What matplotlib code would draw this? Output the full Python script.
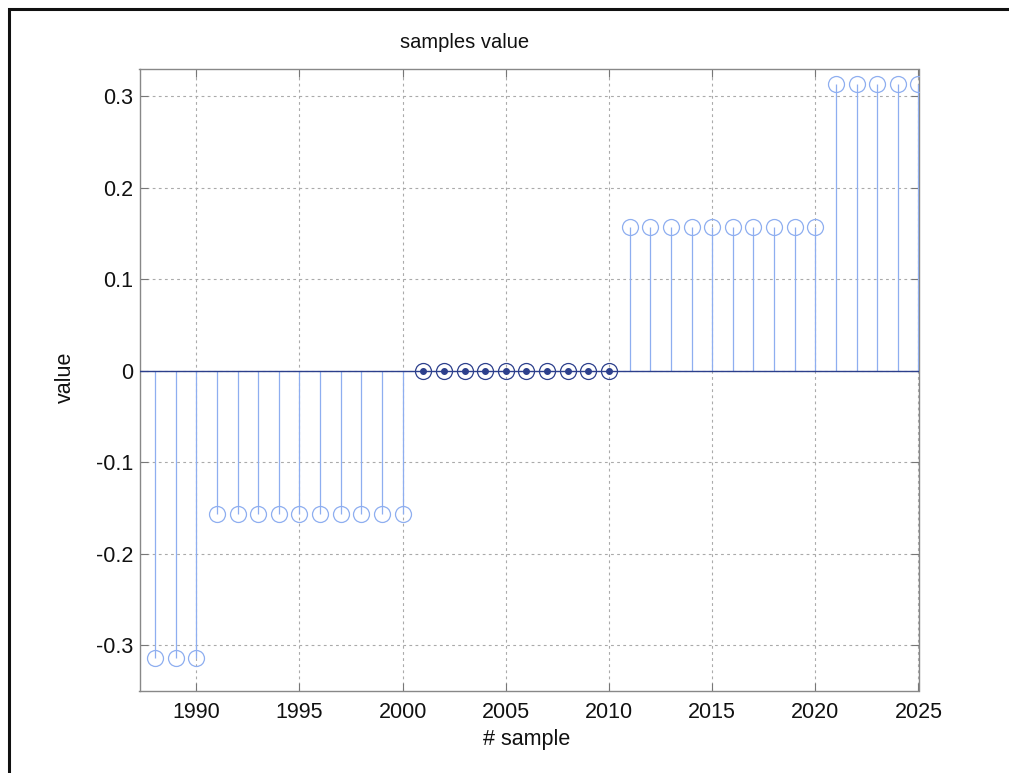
import matplotlib
matplotlib.use("Agg")
import matplotlib.pyplot as plt
from matplotlib.patches import Rectangle
from matplotlib.ticker import FixedLocator, FuncFormatter

samples = [1988, 1989, 1990, 1991, 1992, 1993, 1994, 1995, 1996, 1997,
           1998, 1999, 2000, 2001, 2002, 2003, 2004, 2005, 2006, 2007,
           2008, 2009, 2010, 2011, 2012, 2013, 2014, 2015, 2016, 2017,
           2018, 2019, 2020, 2021, 2022, 2023, 2024, 2025]
values = [-0.314, -0.314, -0.314,
          -0.157, -0.157, -0.157, -0.157, -0.157, -0.157, -0.157, -0.157, -0.157, -0.157,
          0.0, 0.0, 0.0, 0.0, 0.0, 0.0, 0.0, 0.0, 0.0, 0.0,
          0.157, 0.157, 0.157, 0.157, 0.157, 0.157, 0.157, 0.157, 0.157, 0.157,
          0.314, 0.314, 0.314, 0.314, 0.314]
x_ticks = [1990, 1995, 2000, 2005, 2010, 2015, 2020, 2025]
y_ticks = [-0.3, -0.2, -0.1, 0.0, 0.1, 0.2, 0.3]

plt.rcParams['font.family'] = ['Liberation Sans', 'DejaVu Sans']

W, H = 1009, 773
fig = plt.figure(figsize=(W / 100, H / 100), dpi=100)
fig.patch.set_facecolor('white')

# outer frame
fig.patches.append(Rectangle((9 / W, -0.05), 1.1, 1 - 9 / H + 0.05,
                             transform=fig.transFigure, fill=False,
                             edgecolor='#111111', linewidth=2.2, zorder=0))

ax = fig.add_axes([139.5 / W, 1 - 690.7 / H, (918.5 - 139.5) / W, (690.7 - 69) / H])
ax.set_xlim(1987.25, 2025)
ax.set_ylim(-0.35, 0.33)

stem_col = '#8eaef0'
zero_col = '#2c3f8c'

nz_x = [s for s, v in zip(samples, values) if v != 0]
nz_y = [v for v in values if v != 0]
z_x = [s for s, v in zip(samples, values) if v == 0]
z_y = [v for v in values if v == 0]

ax.vlines(nz_x, 0, nz_y, colors=stem_col, linewidth=0.9, zorder=3)
ax.plot(nz_x, nz_y, linestyle='none', marker='o', markersize=11.5,
        markerfacecolor='none', markeredgecolor=stem_col, markeredgewidth=0.9, zorder=4)
ax.axhline(0, color=zero_col, linewidth=1.0, zorder=3)
ax.plot(z_x, z_y, linestyle='none', marker='o', markersize=11.5,
        markerfacecolor='none', markeredgecolor=zero_col, markeredgewidth=0.9, zorder=5)
ax.plot(z_x, z_y, linestyle='none', marker='o', markersize=4,
        markerfacecolor=zero_col, markeredgecolor=zero_col, zorder=6)

ax.xaxis.set_major_locator(FixedLocator(x_ticks))
ax.yaxis.set_major_locator(FixedLocator(y_ticks))
ax.yaxis.set_major_formatter(FuncFormatter(lambda v, p: '0' if abs(v) < 1e-9 else f'{v:.1f}'))
ax.grid(True, color='#aaaaaa', linestyle=(0, (2.5, 3)), linewidth=0.8)
ax.set_axisbelow(True)
ax.tick_params(direction='in', length=6, width=0.8, color='#777777',
               labelsize=15.5, labelcolor='#111111',
               top=True, right=True)
ax.tick_params(axis='x', pad=8)
ax.tick_params(axis='y', pad=4.5)
for sp in ax.spines.values():
    sp.set_color('#888888')
    sp.set_linewidth(1.0)

fig.text(465 / W, 1 - 42 / H, 'samples value', ha='center', va='center',
         fontsize=14.5, color='#111111')
fig.text(527 / W, 1 - 740 / H, '# sample', ha='center', va='center',
         fontsize=15.5, color='#111111')
fig.text(65 / W, 1 - 377 / H, 'value', ha='center', va='center',
         rotation=90, fontsize=15.5, color='#111111')

fig.savefig('out.png', dpi=100)
